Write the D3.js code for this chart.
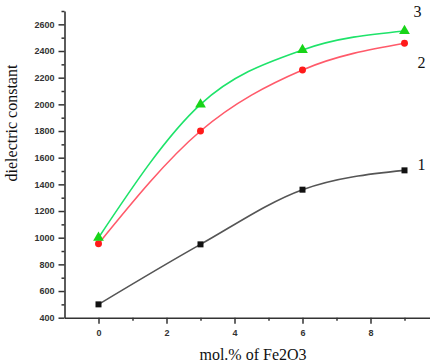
<!DOCTYPE html>
<html>
<head>
<meta charset="utf-8">
<script src="https://cdn.jsdelivr.net/npm/d3@7"></script>
<style>
  body { margin: 0; background: #fff; }
  svg { display: block; }
  .tick text { font-family: "Liberation Sans", Arial, sans-serif; font-size: 9px; fill: #333; font-weight: bold; }
  .axisTitle { font-family: "Liberation Serif", "Times New Roman", serif; font-size: 16px; fill: #111; }
  .seriesLabel { font-family: "Liberation Serif", "Times New Roman", serif; font-size: 16px; fill: #111; }
</style>
</head>
<body>
<div id="graphicContainer"></div>
<script>
var molPercent = [0, 3, 6, 9]
var series1 = [500, 950, 1360, 1505]
var series2 = [955, 1800, 2258, 2458]
var series3 = [1000, 2000, 2408, 2550]
var seriesNames = ["1", "2", "3"]
var xTicks = [0, 2, 4, 6, 8]
var xMinorTicks = [1, 3, 5, 7, 9]
var yTicks = [400, 600, 800, 1000, 1200, 1400, 1600, 1800, 2000, 2200, 2400, 2600]
var yMinorTicks = [500, 700, 900, 1100, 1300, 1500, 1700, 1900, 2100, 2300, 2500, 2700]

var width = 430
var height = 363

var svg = d3.select("#graphicContainer").append("svg")
  .attr("width", width)
  .attr("height", height)

var x = d3.scaleLinear().domain([-1, 9.8]).range([64.5, 431.7])
var y = d3.scaleLinear().domain([400, 2700]).range([317.7, 11])

// minor ticks
svg.append("g")
  .attr("transform", "translate(0," + y(400) + ")")
  .call(d3.axisBottom(x).tickValues(xMinorTicks).tickSize(3).tickFormat(""))
  .call(g => g.select(".domain").remove())
  .call(g => g.selectAll("line").attr("stroke", "#333").attr("stroke-width", 1.5))

svg.append("g")
  .attr("transform", "translate(" + x(-1) + ",0)")
  .call(d3.axisLeft(y).tickValues(yMinorTicks).tickSize(3).tickFormat(""))
  .call(g => g.select(".domain").remove())
  .call(g => g.selectAll("line").attr("stroke", "#333").attr("stroke-width", 1.5))

// main axes
svg.append("g")
  .attr("class", "x")
  .attr("transform", "translate(0," + y(400) + ")")
  .call(d3.axisBottom(x).tickValues(xTicks).tickFormat(d3.format("d")).tickSize(6).tickSizeOuter(0).tickPadding(6))

svg.append("g")
  .attr("class", "y")
  .attr("transform", "translate(" + x(-1) + ",0)")
  .call(d3.axisLeft(y).tickValues(yTicks).tickFormat(d3.format("d")).tickSize(6).tickSizeOuter(0).tickPadding(4))

svg.selectAll(".domain").attr("stroke", "#333").attr("stroke-width", 1.6)
svg.selectAll(".x line, .y line").attr("stroke", "#333").attr("stroke-width", 1.5)

// axis titles
svg.append("text")
  .attr("class", "axisTitle")
  .attr("x", 253)
  .attr("y", 360)
  .attr("text-anchor", "middle")
  .text("mol.% of Fe2O3")

svg.append("text")
  .attr("class", "axisTitle")
  .attr("transform", "translate(17," + 123 + ") rotate(-90)")
  .attr("text-anchor", "middle")
  .text("dielectric constant")

var line = d3.line()
  .x(d => x(d[0]))
  .y(d => y(d[1]))
  .curve(d3.curveMonotoneX)

function pts(vals) {
  return molPercent.map((m, i) => [m, vals[i]])
}

var allSeries = [
  { name: seriesNames[0], values: pts(series1), line: "#555", marker: "#111", shape: d3.symbolSquare, size: 36 },
  { name: seriesNames[1], values: pts(series2), line: "#ff5a6a", marker: "#ff1a1a", shape: d3.symbolCircle, size: 38 },
  { name: seriesNames[2], values: pts(series3), line: "#1ee36a", marker: "#18d418", shape: d3.symbolTriangle, size: 50 }
]

allSeries.forEach(function (s) {
  svg.append("path")
    .datum(s.values)
    .attr("fill", "none")
    .attr("stroke", s.line)
    .attr("stroke-width", 1.6)
    .attr("d", line)

  svg.selectAll(".m" + s.name)
    .data(s.values)
    .enter().append("path")
    .attr("transform", d => "translate(" + x(d[0]) + "," + y(d[1]) + ")")
    .attr("d", d3.symbol().type(s.shape).size(s.size))
    .attr("fill", s.marker)
})

// series labels beside the last point
var labelOffsets = { "1": [13, 0], "2": [13, 25], "3": [9, -14] }
allSeries.forEach(function (s) {
  var last = s.values[s.values.length - 1]
  svg.append("text")
    .attr("class", "seriesLabel")
    .attr("x", x(last[0]) + labelOffsets[s.name][0])
    .attr("y", y(last[1]) + labelOffsets[s.name][1])
    .text(s.name)
})
</script>
</body>
</html>
